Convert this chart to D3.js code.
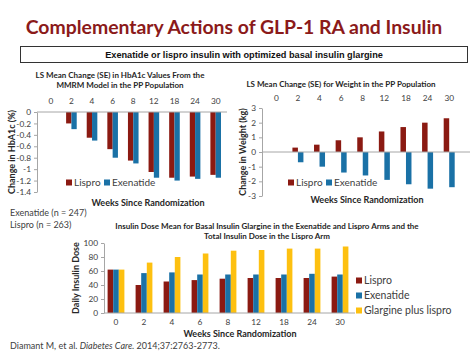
<!DOCTYPE html>
<html><head><meta charset="utf-8">
<script src="https://cdn.jsdelivr.net/npm/d3@7"></script>
<style>
body{margin:0;background:#fff;}
svg{display:block;}
text{font-family:Lato,"Open Sans",sans-serif;}
</style></head>
<body>
<svg id="c" width="474" height="355"></svg>
<script>
const weeks = ["0","2","4","6","8","12","18","24","30"];
const hba1cLispro = [0,-0.2,-0.45,-0.65,-0.85,-1.05,-1.15,-1.13,-1.1];
const hba1cExenatide = [0,-0.3,-0.5,-0.8,-0.9,-1.15,-1.2,-1.17,-1.15];
const hba1cTicks = [0,-0.2,-0.4,-0.6,-0.8,-1,-1.2,-1.4];
const weightLispro = [0,0.3,0.5,0.8,1.0,1.4,1.7,2.0,2.3];
const weightExenatide = [0,-0.7,-1.0,-1.4,-1.6,-1.9,-2.2,-2.5,-2.4];
const weightTicks = [3,2,1,0,-1,-2,-3];
const doseLispro = [62,40,45,47,49,50,50,50,52];
const doseExenatide = [62,57,58,55,55,55,55,56,55];
const doseGlargineLispro = [62,72,80,85,89,90,92,92,95];
const doseTicks = [0,20,40,60,80,100];

const RED = "#8b1a12", BLUE = "#1a71a6", YEL = "#fdc010", TXT = "#404040", AX = "#a6a6a6";
const svg = d3.select("#c");

// Main title
svg.append("text").attr("x",234).attr("y",34).attr("text-anchor","middle")
  .attr("font-size",19.4).attr("font-weight","bold").attr("fill","#8b1a1a")
  .text("Complementary Actions of GLP-1 RA and Insulin");
svg.append("rect").attr("x",20.5).attr("y",46.5).attr("width",447).attr("height",16)
  .attr("fill","#fff").attr("stroke","#333").attr("stroke-width",1);
svg.append("text").attr("x",244).attr("y",58)
  .attr("text-anchor","middle").style("font-family","'Liberation Sans',Arial")
  .attr("font-size",9.2).attr("font-weight","bold").attr("fill","#111")
  .text("Exenatide or lispro insulin with optimized basal insulin glargine");

function title(lines, x, y0, lh){
  lines.forEach((l,i)=>svg.append("text").attr("x",x).attr("y",y0+i*lh)
    .attr("text-anchor","middle").attr("font-size",8).attr("font-weight","bold").attr("fill","#262626").text(l));
}
function ylabel(t, x, y){
  svg.append("text").attr("transform",`translate(${x},${y}) rotate(-90)`).attr("text-anchor","middle")
    .attr("font-size",9).attr("font-weight","bold").attr("fill","#262626").text(t);
}
function xlabel(t, x, y){
  svg.append("text").attr("x",x).attr("y",y).attr("text-anchor","middle")
    .attr("font-size",9).attr("font-weight","bold").attr("fill","#262626").text(t);
}
function legendItem(x,y,color,label,fs){
  svg.append("rect").attr("x",x).attr("y",y-3.5).attr("width",6).attr("height",6).attr("fill",color);
  svg.append("text").attr("x",x+8).attr("y",y+3).attr("font-size",fs).attr("fill",TXT).text(label);
}
function styleAxis(g){
  g.selectAll("path").attr("stroke",AX);
  g.selectAll("line").attr("stroke",AX);
  g.selectAll("text").attr("fill",TXT).attr("font-size",8.3).style("font-family","Lato,sans-serif");
}
const minusFmt = d => (d<0?"-":"") + d3.format("")(Math.abs(+(+d).toFixed(1)));

// ---- Chart 1: HbA1c ----
{
  const x = d3.scaleBand().domain(weeks).range([40.5,226]);
  const xi = d3.scaleBand().domain(["L","E"]).range([0,10.6]);
  const y = d3.scaleLinear().domain([0,-1.4]).range([112,192]);
  const off = (x.bandwidth()-10.6)/2;
  title(["LS Mean Change (SE) in HbA1c Values From the","MMRM Model in the PP Population"],120,78,10);
  weeks.forEach((w,i)=>{
    [[hba1cLispro[i],"L",RED],[hba1cExenatide[i],"E",BLUE]].forEach(([v,k,c])=>{
      svg.append("rect").attr("x",x(w)+off+xi(k)).attr("width",xi.bandwidth())
        .attr("y",y(0)).attr("height",y(v)-y(0)).attr("fill",c);
    });
  });
  const ya = svg.append("g").attr("transform","translate(37,0)")
    .call(d3.axisLeft(y).tickValues(hba1cTicks).tickSize(3).tickSizeOuter(0).tickFormat(minusFmt));
  styleAxis(ya);
  const xa = svg.append("g").attr("transform",`translate(0,${y(0)})`)
    .call(d3.axisTop(x).tickSize(0).tickPadding(8));
  styleAxis(xa);
  xa.select("path").attr("d",`M37,0H227`);
  ylabel("Change in HbA1c (%)",15,152);
  xlabel("Weeks Since Randomization",148,206);
  legendItem(66,183,RED,"Lispro",10);
  legendItem(104,183,BLUE,"Exenatide",10);
}

// ---- Chart 2: Weight ----
{
  const x = d3.scaleBand().domain(weeks).range([265.5,460]);
  const xi = d3.scaleBand().domain(["L","E"]).range([0,11]);
  const y = d3.scaleLinear().domain([3,-3]).range([108,196]);
  const off = (x.bandwidth()-11)/2;
  title(["LS Mean Change (SE) for Weight in the PP Population"],341,87,10);
  weeks.forEach((w,i)=>{
    [[weightLispro[i],"L",RED],[weightExenatide[i],"E",BLUE]].forEach(([v,k,c])=>{
      svg.append("rect").attr("x",x(w)+off+xi(k)).attr("width",xi.bandwidth())
        .attr("y",Math.min(y(v),y(0))).attr("height",Math.abs(y(v)-y(0))).attr("fill",c);
    });
  });
  const ya = svg.append("g").attr("transform","translate(262,0)")
    .call(d3.axisLeft(y).tickValues(weightTicks).tickSize(3).tickSizeOuter(0).tickFormat(minusFmt));
  styleAxis(ya);
  const xa = svg.append("g").attr("transform",`translate(0,${y(0)})`)
    .call(d3.axisTop(x).tickSize(0).tickPadding(0));
  styleAxis(xa);
  xa.selectAll("text").attr("y",98-y(0)+3);
  xa.select("path").attr("d",`M262,0H470`);
  ylabel("Change in Weight (kg)",246,152);
  xlabel("Weeks Since Randomization",367,203);
  legendItem(288,183,RED,"Lispro",10);
  legendItem(326,183,BLUE,"Exenatide",10);
}

// Sample sizes
svg.append("text").attr("x",10).attr("y",216).attr("font-size",9).attr("fill",TXT).text("Exenatide (n = 247)");
svg.append("text").attr("x",10).attr("y",228).attr("font-size",9).attr("fill",TXT).text("Lispro (n = 263)");

// ---- Chart 3: Insulin dose ----
{
  const x = d3.scaleBand().domain(weeks).range([102,354]);
  const xi = d3.scaleBand().domain(["L","E","G"]).range([0,16.8]);
  const y = d3.scaleLinear().domain([0,100]).range([313,243]);
  const off = (x.bandwidth()-16.8)/2;
  title(["Insulin Dose Mean for Basal Insulin Glargine in the Exenatide and Lispro Arms and the","Total Insulin Dose in the Lispro Arm"],267,229,10);
  weeks.forEach((w,i)=>{
    [[doseLispro[i],"L",RED],[doseExenatide[i],"E",BLUE],[doseGlargineLispro[i],"G",YEL]].forEach(([v,k,c])=>{
      svg.append("rect").attr("x",x(w)+off+xi(k)).attr("width",xi.bandwidth())
        .attr("y",y(v)).attr("height",y(0)-y(v)).attr("fill",c);
    });
  });
  const ya = svg.append("g").attr("transform","translate(104,0)")
    .call(d3.axisLeft(y).tickValues(doseTicks).tickSize(3).tickSizeOuter(0));
  styleAxis(ya);
  const xa = svg.append("g").attr("transform",`translate(0,313)`)
    .call(d3.axisBottom(x).tickSize(0).tickPadding(6));
  styleAxis(xa);
  xa.select("path").attr("d",`M104,0H355`);
  ylabel("Daily Insulin Dose",79,278);
  xlabel("Weeks Since Randomization",240,337);
  legendItem(356,281,RED,"Lispro",10.5);
  legendItem(356,296,BLUE,"Exenatide",10.5);
  legendItem(356,311,YEL,"Glargine plus lispro",10.5);
}

// Citation
const cit = svg.append("text").attr("x",10).attr("y",349).attr("font-size",9).attr("fill",TXT);
cit.append("tspan").text("Diamant M, et al. ");
cit.append("tspan").attr("font-style","italic").text("Diabetes Care.");
cit.append("tspan").text(" 2014;37:2763-2773.");
</script>
</body></html>
